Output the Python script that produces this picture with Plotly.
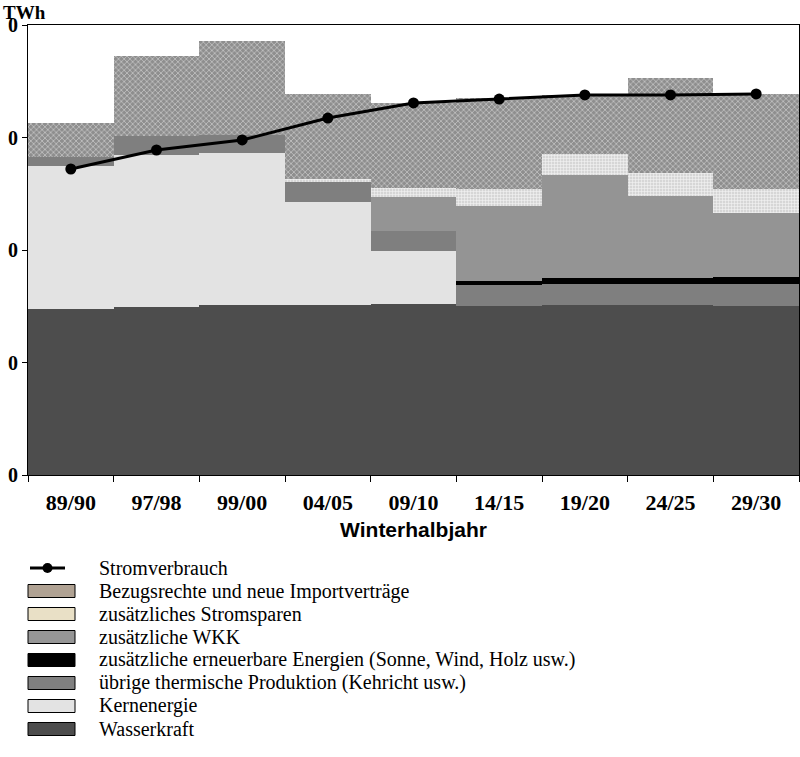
import plotly.graph_objects as go

# Winter half-years
periods = ["89/90", "97/98", "99/00", "04/05", "09/10", "14/15", "19/20", "24/25", "29/30"]

# Supply components, TWh (stacked from bottom to top)
wasserkraft = [14.76, 14.93, 15.11, 15.11, 15.20, 15.02, 15.11, 15.11, 15.02]
kernenergie = [12.71, 13.51, 13.51, 9.16, 4.71, 0.0, 0.0, 0.0, 0.0]
uebrige_thermisch = [0.80, 1.69, 1.60, 1.78, 1.78, 1.87, 1.87, 1.87, 1.96]
erneuerbare = [0.0, 0.0, 0.0, 0.0, 0.0, 0.36, 0.53, 0.53, 0.62]
wkk = [0.0, 0.0, 0.0, 0.0, 3.02, 6.67, 9.16, 7.29, 5.69]
stromsparen = [0.0, 0.0, 0.0, 0.27, 0.80, 1.51, 1.87, 2.04, 2.13]
bezugsrechte = [3.02, 7.11, 8.36, 7.56, 7.56, 8.09, 5.24, 8.44, 8.44]

# Electricity consumption, TWh
stromverbrauch = [27.20, 28.89, 29.78, 31.73, 33.07, 33.42, 33.78, 33.78, 33.87]

y_tick_values = [0, 10, 20, 30, 40]
y_tick_labels = ["0", "0", "0", "0", "0"]

legend_labels = [
    "Stromverbrauch",
    "Bezugsrechte und neue Importverträge",
    "zusätzliches Stromsparen",
    "zusätzliche WKK",
    "zusätzliche erneuerbare Energien (Sonne, Wind, Holz usw.)",
    "übrige thermische Produktion (Kehricht usw.)",
    "Kernenergie",
    "Wasserkraft",
]

SERIF = "Liberation Serif, Times New Roman, serif"
SANS = "Liberation Sans, Arial, sans-serif"

fig = go.Figure()

bar_specs = [
    ("Wasserkraft", wasserkraft, dict(color="#4d4d4d")),
    ("Kernenergie", kernenergie, dict(color="#e3e3e3")),
    ("übrige thermische Produktion", uebrige_thermisch, dict(color="#7f7f7f")),
    ("zusätzliche erneuerbare Energien", erneuerbare, dict(color="#000000")),
    ("zusätzliche WKK", wkk, dict(color="#949494")),
    ("zusätzliches Stromsparen", stromsparen,
     dict(color="#dadada", pattern=dict(shape="+", bgcolor="#d6d6d6", fgcolor="#f2f2f2",
                                        size=3, solidity=0.35, fillmode="replace"))),
    ("Bezugsrechte", bezugsrechte,
     dict(color="#999999", pattern=dict(shape="x", bgcolor="#8e8e8e", fgcolor="#c6c6c6",
                                        size=4, solidity=0.35, fillmode="replace"))),
]
for name, vals, marker in bar_specs:
    fig.add_trace(go.Bar(x=periods, y=vals, name=name, marker=dict(line=dict(width=0), **marker),
                         showlegend=False))

fig.add_trace(go.Scatter(x=periods, y=stromverbrauch, mode="lines+markers", name="Stromverbrauch",
                         line=dict(color="black", width=3),
                         marker=dict(color="black", size=11), showlegend=False))

# Plot area in pixels: x 28..799, y 25..475
L, R, T, B = 28, 799, 25, 475
W, H = R - L, B - T


def px(x):
    return (x - L) / W


def py(y):
    return (B - y) / H


fig.update_layout(
    width=800, height=757,
    margin=dict(l=L, r=800 - R, t=T, b=757 - B, pad=0),
    paper_bgcolor="white", plot_bgcolor="white",
    barmode="stack", bargap=0,
    showlegend=False,
    xaxis=dict(
        range=[-0.5, len(periods) - 0.5],
        showline=True, linecolor="black", linewidth=1, mirror=True,
        ticks="outside", ticklen=6, tickcolor="black", tickson="boundaries",
        ticklabelstandoff=8,
        tickfont=dict(family=SERIF, size=22, color="black", weight="bold"),
        title=dict(text="Winterhalbjahr", standoff=7,
                   font=dict(family=SANS, size=21, color="black", weight="bold")),
        showgrid=False,
    ),
    yaxis=dict(
        range=[0, 40], showline=True, linecolor="black", linewidth=1, mirror=True,
        ticks="outside", ticklen=5, tickcolor="black",
        tickvals=y_tick_values, ticktext=y_tick_labels,
        tickfont=dict(family=SERIF, size=20, color="black", weight="bold"),
        showgrid=False, zeroline=False,
    ),
)

# Unit label
fig.add_annotation(text="TWh", xref="paper", yref="paper", x=px(1), y=py(0),
                   xanchor="left", yanchor="top", showarrow=False,
                   font=dict(family=SERIF, size=19, color="black", weight="bold"))

# Legend drawn below the chart
row_y = [568 + 23 * i for i in range(len(legend_labels))]
sw_x0, sw_x1 = 28, 75
swatch_fills = [None, "#b0a293", "#e9e0c6", "#969696", "#000000", "#808080", "#e3e3e3", "#4d4d4d"]

for label, yc, fill in zip(legend_labels, row_y, swatch_fills):
    if fill is None:
        fig.add_shape(type="line", xref="paper", yref="paper",
                      x0=px(sw_x0 + 2), x1=px(sw_x1 - 10), y0=py(yc), y1=py(yc),
                      line=dict(color="black", width=3))
        cx = (sw_x0 + 2 + sw_x1 - 10) / 2
        fig.add_shape(type="circle", xref="paper", yref="paper",
                      x0=px(cx - 5), x1=px(cx + 5), y0=py(yc - 5), y1=py(yc + 5),
                      fillcolor="black", line=dict(color="black", width=0))
    else:
        fig.add_shape(type="rect", xref="paper", yref="paper",
                      x0=px(sw_x0), x1=px(sw_x1), y0=py(yc - 6.5), y1=py(yc + 6.5),
                      fillcolor=fill, line=dict(color="black", width=1))
    fig.add_annotation(text=label, xref="paper", yref="paper", x=px(97), y=py(yc),
                       xanchor="left", yanchor="middle", showarrow=False,
                       font=dict(family=SERIF, size=20, color="black"))

fig.write_html("out.html")
